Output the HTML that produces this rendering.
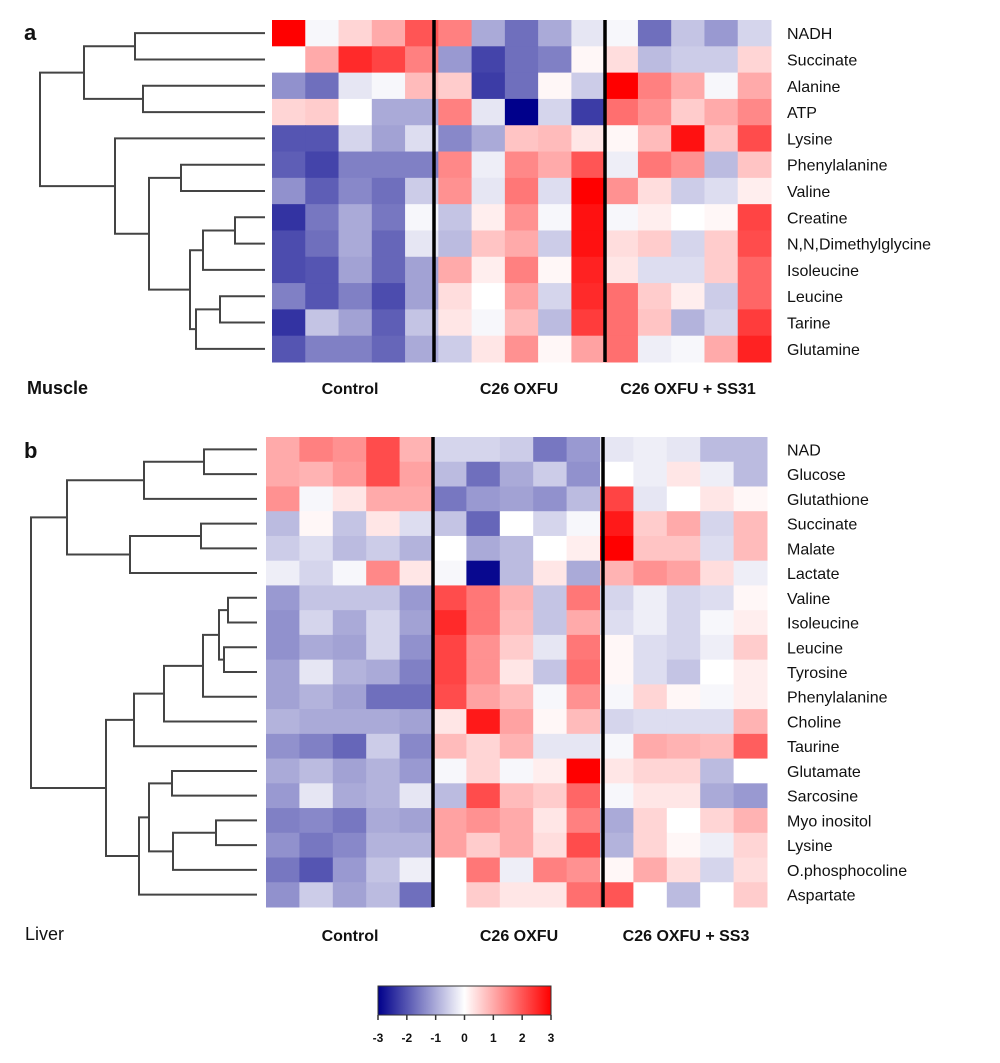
<!DOCTYPE html>
<html><head><meta charset="utf-8"><style>
body{margin:0;background:#fff;}
svg text{font-family:"Liberation Sans",Arial,sans-serif;fill:#111;}
</style></head><body>
<svg id="fig" width="1000" height="1058" viewBox="0 0 1000 1058" xmlns="http://www.w3.org/2000/svg">
<rect width="1000" height="1058" fill="#fff"/>
</svg>
<script>
const muscleRows=["NADH","Succinate","Alanine","ATP","Lysine","Phenylalanine","Valine","Creatine","N,N,Dimethylglycine","Isoleucine","Leucine","Tarine","Glutamine"];
const muscleValues=[
[3,-0.1,0.5,1,2, 1.5,-1,-1.7,-1,-0.3, -0.1,-1.7,-0.7,-1.2,-0.5],
[0,1,2.5,2.2,1.5, -1.2,-2.2,-1.7,-1.5,0.1, 0.4,-0.8,-0.6,-0.6,0.5],
[-1.3,-1.7,-0.3,-0.1,0.8, 0.6,-2.3,-1.7,0.1,-0.6, 3,1.5,1,-0.1,1],
[0.5,0.6,0,-1,-1, 1.5,-0.3,-3,-0.5,-2.3, 1.7,1.3,0.6,1,1.4],
[-2,-2,-0.5,-1.1,-0.4, -1.4,-1,0.7,0.8,0.3, 0.1,0.8,2.8,0.7,2.1],
[-1.9,-2.2,-1.5,-1.5,-1.5, 1.4,-0.2,1.4,1,2, -0.2,1.6,1.3,-0.8,0.7],
[-1.3,-1.9,-1.4,-1.7,-0.6, 1.3,-0.3,1.6,-0.4,3, 1.3,0.4,-0.6,-0.4,0.2],
[-2.4,-1.6,-1,-1.6,-0.1, -0.7,0.2,1.3,-0.1,2.8, -0.1,0.2,0,0.1,2.2],
[-2.1,-1.7,-1,-1.8,-0.3, -0.8,0.7,1,-0.6,2.8, 0.4,0.6,-0.5,0.6,2.1],
[-2.1,-2,-1.1,-1.8,-1.1, 1,0.2,1.5,0.1,2.6, 0.3,-0.4,-0.4,0.6,1.8],
[-1.5,-2,-1.5,-2.1,-1.1, 0.4,0,1.1,-0.5,2.5, 1.7,0.6,0.2,-0.6,1.8],
[-2.4,-0.7,-1.1,-1.9,-0.7, 0.3,-0.1,0.8,-0.8,2.3, 1.7,0.7,-0.9,-0.5,2.3],
[-2,-1.5,-1.5,-1.8,-1, -0.6,0.3,1.3,0.1,1.1, 1.7,-0.2,-0.1,1,2.6]];
const liverRows=["NAD","Glucose","Glutathione","Succinate","Malate","Lactate","Valine","Isoleucine","Leucine","Tyrosine","Phenylalanine","Choline","Taurine","Glutamate","Sarcosine","Myo inositol","Lysine","O.phosphocoline","Aspartate"];
const liverValues=[
[1,1.5,1.3,2.1,0.9, -0.5,-0.5,-0.6,-1.6,-1.2, -0.3,-0.2,-0.3,-0.8,-0.8],
[1,0.9,1.2,2.1,1.1, -0.8,-1.7,-1,-0.6,-1.3, 0,-0.2,0.3,-0.2,-0.8],
[1.3,-0.1,0.3,1,1, -1.6,-1.2,-1.1,-1.3,-0.8, 2.2,-0.3,0,0.3,0.1],
[-0.8,0.1,-0.7,0.3,-0.4, -0.7,-1.8,0,-0.5,-0.1, 2.7,0.6,1,-0.5,0.8],
[-0.6,-0.4,-0.8,-0.6,-0.9, 0,-1,-0.8,0,0.2, 3,0.7,0.7,-0.4,0.8],
[-0.2,-0.5,-0.1,1.4,0.3, -0.1,-2.9,-0.8,0.3,-1, 0.9,1.3,1.1,0.4,-0.2],
[-1.2,-0.7,-0.7,-0.7,-1.2, 2.1,1.6,0.9,-0.7,1.6, -0.5,-0.2,-0.5,-0.4,0.1],
[-1.3,-0.5,-1,-0.5,-1.1, 2.5,1.6,0.8,-0.7,1, -0.4,-0.2,-0.5,-0.1,0.2],
[-1.3,-1,-1.1,-0.5,-1.3, 2.2,1.3,0.6,-0.3,1.6, 0.1,-0.4,-0.5,-0.2,0.6],
[-1.1,-0.3,-0.9,-1,-1.5, 2.2,1.3,0.3,-0.7,1.7, 0.1,-0.4,-0.7,0,0.2],
[-1.1,-0.9,-1.1,-1.7,-1.7, 2.1,1.1,0.8,-0.1,1.3, -0.1,0.5,0.1,-0.1,0.2],
[-0.9,-1,-1,-1,-1.1, 0.3,2.7,1.1,0.1,0.8, -0.5,-0.4,-0.4,-0.4,0.9],
[-1.3,-1.5,-1.8,-0.6,-1.4, 0.8,0.5,0.9,-0.3,-0.3, -0.1,1,0.9,0.8,1.9],
[-1,-0.8,-1.1,-0.9,-1.2, -0.1,0.5,-0.1,0.2,3, 0.3,0.5,0.5,-0.8,0],
[-1.2,-0.3,-1,-0.9,-0.3, -0.8,2.1,0.8,0.6,1.8, -0.1,0.3,0.3,-1,-1.2],
[-1.5,-1.4,-1.6,-1,-1.1, 1.1,1.3,1,0.3,1.5, -1,0.5,0,0.5,0.9],
[-1.3,-1.6,-1.4,-0.9,-0.9, 1.1,0.6,1,0.4,2.1, -0.9,0.5,0.1,-0.2,0.5],
[-1.6,-2,-1.2,-0.7,-0.2, 0,1.6,-0.2,1.5,1.3, 0.1,1,0.4,-0.5,0.4],
[-1.3,-0.6,-1.1,-0.8,-1.7, 0,0.6,0.3,0.3,1.7, 2,0,-0.8,0,0.6]];
const colorTicks=[-3,-2,-1,0,1,2,3];

const NS="http://www.w3.org/2000/svg";
const svg=document.getElementById('fig');
function mk(tag,attrs,parent){const e=document.createElementNS(NS,tag);for(const k in attrs)e.setAttribute(k,attrs[k]);(parent||svg).appendChild(e);return e;}
function color(v){v=Math.max(-3,Math.min(3,v));let t=Math.abs(v)/3;
 if(v<0){return `rgb(${Math.round(255*(1-t))},${Math.round(255*(1-t))},${Math.round(255-(255-139)*t)})`;}
 return `rgb(255,${Math.round(255*(1-t))},${Math.round(255*(1-t))})`;}

function heatmap(rows,vals,x0,y0,w,h,sep1,sep2,name){
 const g=mk('g',{});
 
 
 const cw=w/15,rh=h/rows.length;
 vals.forEach((r,i)=>r.forEach((v,j)=>{
  const c=mk('rect',{x:x0+j*cw,y:y0+i*rh,width:cw+0.5,height:rh+0.5,fill:color(v)},g);
  
  
 }));
 [sep1,sep2].forEach((sx,k)=>{const l=mk('line',{x1:sx,x2:sx,y1:y0,y2:y0+h,stroke:'#000','stroke-width':3.5},g);
  
  });
 rows.forEach((r,i)=>{const t=mk('text',{x:787,y:y0+(i+0.5)*rh+6,'font-size':16},g);t.textContent=r;
  
  });
 return rh;
}
function dendro(tree,y0,rh,leafX,name){
 const g=mk('g',{fill:'none',stroke:'#444','stroke-width':2});
 
 
 function draw(n){ if(typeof n==='number') return {x:leafX,y:y0+(n+0.5)*rh};
  const a=draw(n[1]),b=draw(n[2]),x=n[0];
  mk('path',{d:`M${a.x},${a.y}H${x}V${b.y}H${b.x}`},g);
  return {x:x,y:(a.y+b.y)/2};}
 draw(tree);
}
const rhA=heatmap(muscleRows,muscleValues,272,20,499,342,434,605,'muscle-heatmap');
dendro([40,[84,[135,0,1],[143,2,3]],[115,4,[149,[181,5,6],[190,[203,[235,7,8],9],[196,[220,10,11],12]]]]],20,rhA,265,'muscle-dendrogram');
const rhB=heatmap(liverRows,liverValues,266,437,501,470,433,603,'liver-heatmap');
dendro([31,[67,[144,[204,0,1],2],[130,[201,3,4],5]],[106,[134,[164,[203,[219,[228,6,7],[224,8,9]],10],11],12],[139,[149,[172,13,14],[173,[216,15,16],17]],18]]],437,rhB,257,'liver-dendrogram');

function txt(s,x,y,size,weight,anchor,name){const t=mk('text',{x:x,y:y,'font-size':size,'font-weight':weight,'text-anchor':anchor||'start'});t.textContent=s;
 
 }
txt('a',24,40,22,'bold','start','panel-label-a');
txt('Muscle',27,394,18,'bold','start','muscle-title');
txt('Control',350,394,16,'bold','middle','muscle-control-label');
txt('C26 OXFU',519,394,16,'bold','middle','muscle-c26-label');
txt('C26 OXFU + SS31',688,394,16,'bold','middle','muscle-ss31-label');
txt('b',24,458,22,'bold','start','panel-label-b');
txt('Liver',25,940,18,'normal','start','liver-title');
txt('Control',350,941,16,'bold','middle','liver-control-label');
txt('C26 OXFU',519,941,16,'bold','middle','liver-c26-label');
txt('C26 OXFU + SS3',686,941,16,'bold','middle','liver-ss3-label');

const defs=mk('defs',{});const lg=mk('linearGradient',{id:'cb',x1:0,x2:1,y1:0,y2:0},defs);
[[0,-3],[0.25,-1.5],[0.5,0],[0.75,1.5],[1,3]].forEach(s=>mk('stop',{offset:s[0],'stop-color':color(s[1])},lg));
const cbX0=378,cbX1=551,cbY=986,cbH=29;
const cb=mk('rect',{x:cbX0,y:cbY,width:cbX1-cbX0,height:cbH,fill:'url(#cb)',stroke:'#333','stroke-width':1});


function cx(v){return cbX0+(v+3)/6*(cbX1-cbX0);}
colorTicks.forEach(v=>{const l=mk('line',{x1:cx(v),x2:cx(v),y1:cbY+cbH,y2:cbY+cbH+5,stroke:'#333','stroke-width':1.5});
 
 
 const t=mk('text',{x:cx(v),y:1042,'font-size':12,'font-weight':'bold','text-anchor':'middle',fill:'#555'});t.textContent=String(v);
 
 });
</script>
</body></html>
